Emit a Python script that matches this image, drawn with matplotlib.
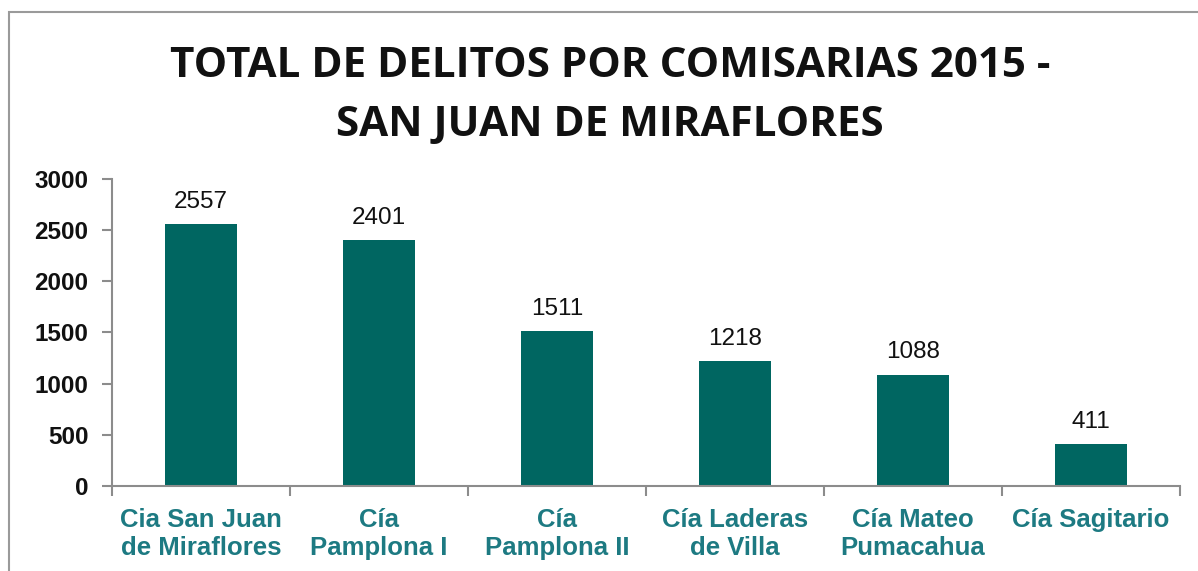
import matplotlib.pyplot as plt
from matplotlib.patches import Rectangle

comisarias = ["Cia San Juan\nde Miraflores", "Cía\nPamplona I", "Cía\nPamplona II",
              "Cía Laderas\nde Villa", "Cía Mateo\nPumacahua", "Cía Sagitario"]
delitos = [2557, 2401, 1511, 1218, 1088, 411]
yticks = [0, 500, 1000, 1500, 2000, 2500, 3000]

BAR = "#006661"
LABEL = "#1d7a82"
AXIS = "#8c8c8c"

fig = plt.figure(figsize=(11.98, 5.71), dpi=100)
ax = fig.add_axes([0.0935, 0.149, 0.8915, 0.5375])

x = list(range(len(delitos)))
ax.bar(x, delitos, width=0.4, color=BAR, zorder=2)
for xi, v in zip(x, delitos):
    ax.text(xi, v + 110, str(v), ha="center", va="bottom",
            fontsize=17.5, family="Liberation Sans", color="#111111")

ax.set_xlim(-0.5, len(delitos) - 0.5)
ax.set_ylim(0, 3000)
ax.set_yticks(yticks)
ax.set_yticklabels([str(t) for t in yticks], family="Liberation Sans",
                   fontweight="bold", fontsize=17.5, color="#111111")
# category boundaries as major ticks, labels on minor ticks
ax.set_xticks([i - 0.5 for i in range(len(delitos) + 1)])
ax.set_xticklabels([])
ax.set_xticks(x, minor=True)
ax.set_xticklabels(comisarias, minor=True, family="Liberation Sans",
                   fontweight="bold", fontsize=18.5, color=LABEL, linespacing=1.22)
ax.tick_params(axis="x", which="minor", length=0, pad=16)
ax.tick_params(axis="x", which="major", length=7, direction="out", color=AXIS, width=1.5)
ax.tick_params(axis="y", length=7, direction="out", color=AXIS, width=1.5, pad=10)

for s in ["top", "right"]:
    ax.spines[s].set_visible(False)
for s in ["left", "bottom"]:
    ax.spines[s].set_color(AXIS)
    ax.spines[s].set_linewidth(1.5)

fig.text(0.509, 0.884, "TOTAL DE DELITOS POR COMISARIAS 2015 -", ha="center", va="center",
         family="Open Sans", fontweight="bold", fontsize=30.3, color="#111111")
fig.text(0.509, 0.780, "SAN JUAN DE MIRAFLORES", ha="center", va="center",
         family="Open Sans", fontweight="bold", fontsize=30.3, color="#111111")

# outer chart frame (right and bottom edges fall outside the picture)
fig.patches.append(Rectangle((0.0075, -0.1), 1.2, 1.1 - 12 / 571, transform=fig.transFigure,
                             fill=False, edgecolor="#9a9a9a", linewidth=1.5))

fig.savefig("out.png", dpi=100, facecolor="white")
